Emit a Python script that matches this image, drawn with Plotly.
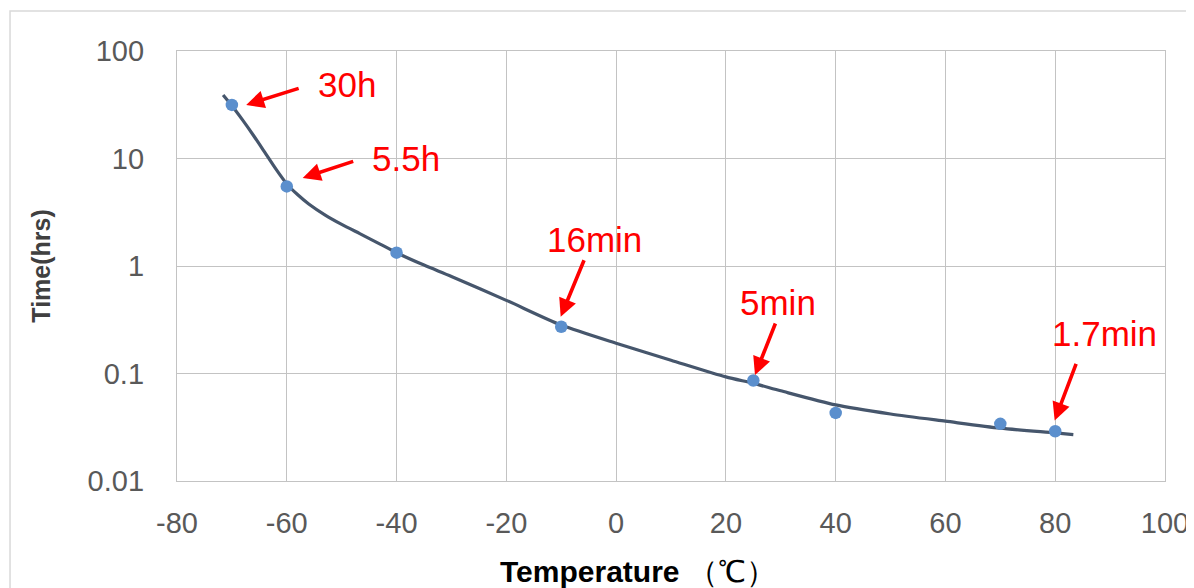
import math
import plotly.graph_objects as go

# Measured data points
temps = [-70, -60, -40, -10, 25, 40, 70, 80]
times = [31.5, 5.5, 1.33, 0.272, 0.086, 0.043, 0.034, 0.029]

# Trend line
trend_t = [-71.6, -70, -68, -66, -64, -62, -60, -58, -56, -53, -50, -46.7, -43, -40, -35, -30, -20, -10,
           0, 10, 20, 25, 30, 40, 50, 60, 70, 80, 83.3]
trend_y = [38.9, 30.9, 22.6, 16.2, 11.4, 8.0, 5.8, 4.6, 3.78, 2.98, 2.44, 2.0, 1.6, 1.33, 1.02, 0.80,
           0.479, 0.282, 0.191, 0.133, 0.093, 0.081, 0.069, 0.051, 0.042, 0.036, 0.031, 0.028, 0.027]

# Annotation labels
labels = ["30h", "5.5h", "16min", "5min", "1.7min"]
head_x = [-67.4, -57.1, -10.1, 25.3, 79.9]
head_y = [31.5, 6.6, 0.337, 0.0968, 0.0366]
tail_dx = [54, 52, 24, 21, 22]
tail_dy = [-17, -17, -58, -53, -58]
text_x = [-49.0, -38.3, -3.9, 29.5, 88.9]
text_y = [48.3, 10.1, 1.75, 0.462, 0.238]

xticks = [-80, -60, -40, -20, 0, 20, 40, 60, 80, 100]
xticktext = ["-80", "-60", "-40", "-20", "0", "20", "40", "60", "80", "100"]
yticks = [0.01, 0.1, 1, 10, 100]
yticktext = ["0.01", "0.1", "1", "10", "100"]

fig = go.Figure()
fig.add_trace(go.Scatter(x=trend_t, y=trend_y, mode="lines",
                         line=dict(color="#46566c", width=3.2, shape="spline", smoothing=0.7),
                         hoverinfo="skip", showlegend=False))
fig.add_trace(go.Scatter(x=temps, y=times, mode="markers", marker=dict(color="#5b8fcd", size=12.5),
                         showlegend=False))

font_fam = "Liberation Sans, Arial, sans-serif"

for i, lab in enumerate(labels):
    fig.add_annotation(x=head_x[i], y=math.log10(head_y[i]), ax=tail_dx[i], ay=tail_dy[i], xref="x", yref="y",
                       axref="pixel", ayref="pixel", text="", showarrow=True, arrowhead=2,
                       arrowsize=1.0, arrowwidth=3.6, arrowcolor="#ff0000")
    fig.add_annotation(x=text_x[i], y=math.log10(text_y[i]), xref="x", yref="y", text=lab, showarrow=False,
                       font=dict(family=font_fam, size=35, color="#ff0000"))

fig.add_annotation(xref="paper", yref="paper", x=-0.138, y=0.5, xanchor="center", yanchor="middle",
                   text="<b>Time(hrs)</b>", textangle=-90,
                   showarrow=False, font=dict(family=font_fam, size=25, color="#404040"))
fig.add_annotation(xref="paper", yref="paper", x=0.4666, y=-0.2116, xanchor="center", yanchor="middle",
                   text="<b>Temperature</b> （℃）", showarrow=False,
                   font=dict(family=font_fam, size=30, color="#000000"))

# outer chart border (left and top visible)
fig.add_shape(type="rect", xref="paper", yref="paper", x0=-0.169, x1=1.2, y0=-0.4, y1=1.093,
              line=dict(color="#d9d9d9", width=1.5), layer="below")

fig.update_xaxes(range=[-80, 100], tickvals=xticks, ticktext=xticktext, showgrid=True, gridcolor="#c3c3c3",
                 gridwidth=1.3, zeroline=False, showline=True, linecolor="#c3c3c3", linewidth=1.3, mirror=True,
                 ticks="", tickfont=dict(family=font_fam, size=29, color="#595959"), ticklabelstandoff=16,
                 automargin=False)
fig.update_yaxes(type="log", range=[-2, 2], tickvals=yticks, ticktext=yticktext, showgrid=True,
                 gridcolor="#c3c3c3", gridwidth=1.3, zeroline=False, showline=True, linecolor="#c3c3c3",
                 linewidth=1.3, mirror=True, ticks="", tickfont=dict(family=font_fam, size=29, color="#595959"),
                 ticklabelstandoff=26, automargin=False)

# page body has an 8px margin, so the figure is sized and offset to match the reference frame
fig.update_layout(width=1186, height=580, margin=dict(l=169, r=29, t=43, b=107),
                  paper_bgcolor="white", plot_bgcolor="white")

fig.write_html("out.html")
